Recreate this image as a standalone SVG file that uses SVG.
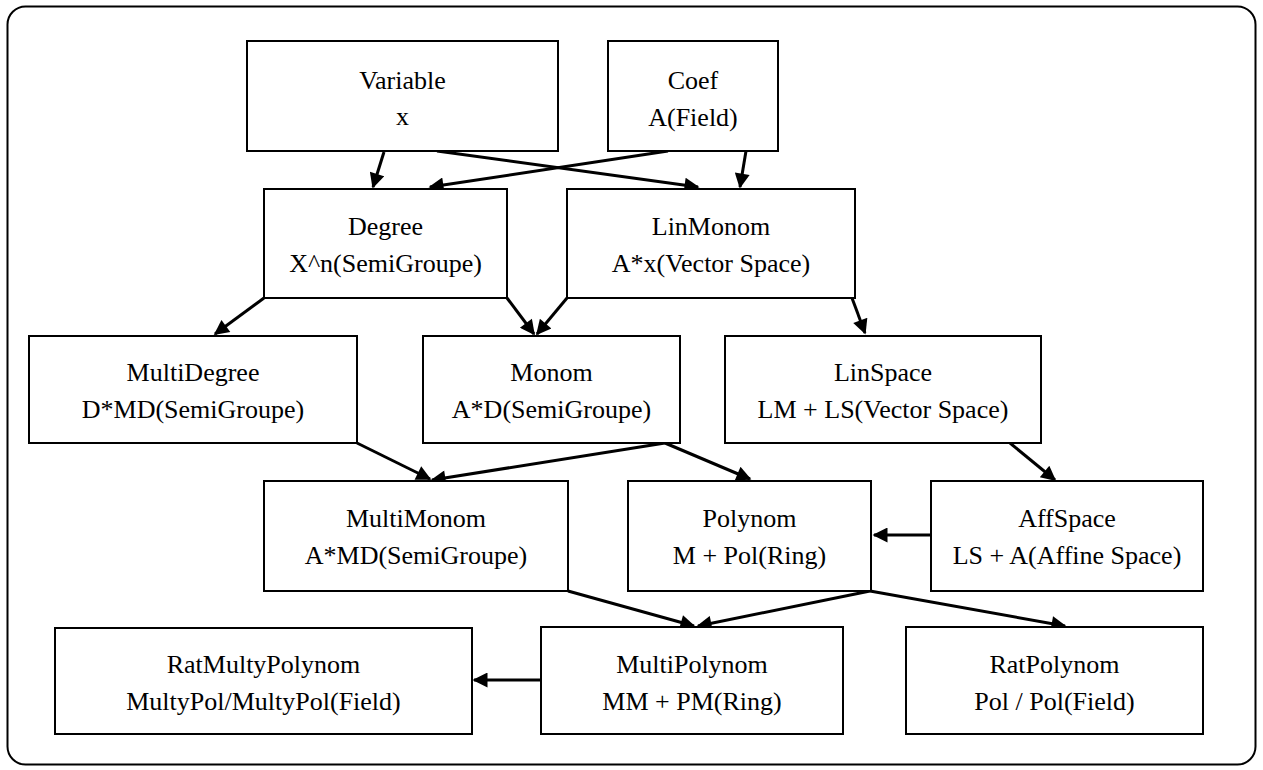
<svg xmlns="http://www.w3.org/2000/svg" width="1263" height="770" viewBox="0 0 1263 770">
<style>
.box{fill:#fff;stroke:#000;stroke-width:2}
.t{font-family:'Liberation Serif','Times New Roman','DejaVu Serif',serif;font-size:26px;fill:#000;text-anchor:middle}
.c{stroke:#000;stroke-width:3;fill:none;marker-end:url(#ah)}
</style>
<defs>
<marker id="ah" viewBox="0 0 10 10" refX="9" refY="5" markerWidth="6" markerHeight="5" orient="auto" markerUnits="strokeWidth">
<path d="M0,0 L10,5 L0,10 z" fill="#000"/>
</marker>
</defs>
<rect x="7.5" y="6.5" width="1248" height="758" rx="18" ry="18" fill="#fff" stroke="#000" stroke-width="2"/>
<g id="connectors">
<line class="c" x1="384" y1="152" x2="373" y2="187"/>
<line class="c" x1="437" y1="151" x2="698" y2="187"/>
<line class="c" x1="668" y1="151" x2="430" y2="187"/>
<line class="c" x1="746" y1="151" x2="740" y2="187"/>
<line class="c" x1="264" y1="298" x2="215" y2="334"/>
<line class="c" x1="507" y1="298" x2="534" y2="334"/>
<line class="c" x1="567" y1="298" x2="537" y2="334"/>
<line class="c" x1="852" y1="298" x2="865" y2="333"/>
<line class="c" x1="357" y1="443" x2="430" y2="479"/>
<line class="c" x1="665" y1="443" x2="432" y2="480"/>
<line class="c" x1="665" y1="443" x2="750" y2="479"/>
<line class="c" x1="1010" y1="443" x2="1055" y2="480"/>
<line class="c" x1="931" y1="535" x2="874" y2="535"/>
<line class="c" x1="568" y1="591" x2="694" y2="626"/>
<line class="c" x1="870" y1="591" x2="698" y2="626"/>
<line class="c" x1="870" y1="591" x2="1065" y2="626"/>
<line class="c" x1="541" y1="680" x2="474" y2="680"/>
</g>
<g id="variable"><rect class="box" x="247" y="41" width="311" height="110"/><text class="t" x="402.5" y="89">Variable</text><text class="t" x="402.5" y="125">x</text></g>
<g id="coef"><rect class="box" x="608" y="41" width="170" height="110"/><text class="t" x="693" y="89">Coef</text><text class="t" x="693" y="126">A(Field)</text></g>
<g id="degree"><rect class="box" x="264" y="189" width="243" height="109"/><text class="t" x="385.5" y="235">Degree</text><text class="t" x="385.5" y="272">X^n(SemiGroupe)</text></g>
<g id="linmonom"><rect class="box" x="567" y="189" width="288" height="109"/><text class="t" x="711" y="235">LinMonom</text><text class="t" x="711" y="272">A*x(Vector Space)</text></g>
<g id="multidegree"><rect class="box" x="29" y="336" width="328" height="107"/><text class="t" x="193" y="381">MultiDegree</text><text class="t" x="193" y="418">D*MD(SemiGroupe)</text></g>
<g id="monom"><rect class="box" x="423" y="336" width="257" height="107"/><text class="t" x="551.5" y="381">Monom</text><text class="t" x="551.5" y="418">A*D(SemiGroupe)</text></g>
<g id="linspace"><rect class="box" x="725" y="336" width="316" height="107"/><text class="t" x="883" y="381">LinSpace</text><text class="t" x="883" y="418">LM + LS(Vector Space)</text></g>
<g id="multimonom"><rect class="box" x="264" y="481" width="304" height="110"/><text class="t" x="416" y="527">MultiMonom</text><text class="t" x="416" y="564">A*MD(SemiGroupe)</text></g>
<g id="polynom"><rect class="box" x="628" y="481" width="243" height="110"/><text class="t" x="749.5" y="527">Polynom</text><text class="t" x="749.5" y="564">M + Pol(Ring)</text></g>
<g id="affspace"><rect class="box" x="931" y="481" width="272" height="110"/><text class="t" x="1067" y="527">AffSpace</text><text class="t" x="1067" y="564">LS + A(Affine Space)</text></g>
<g id="ratmultypolynom"><rect class="box" x="55" y="628" width="417" height="106"/><text class="t" x="263.5" y="673">RatMultyPolynom</text><text class="t" x="263.5" y="710">MultyPol/MultyPol(Field)</text></g>
<g id="multipolynom"><rect class="box" x="541" y="627" width="302" height="107"/><text class="t" x="692" y="673">MultiPolynom</text><text class="t" x="692" y="710">MM + PM(Ring)</text></g>
<g id="ratpolynom"><rect class="box" x="906" y="627" width="297" height="107"/><text class="t" x="1054.5" y="673">RatPolynom</text><text class="t" x="1054.5" y="710">Pol / Pol(Field)</text></g>
</svg>
